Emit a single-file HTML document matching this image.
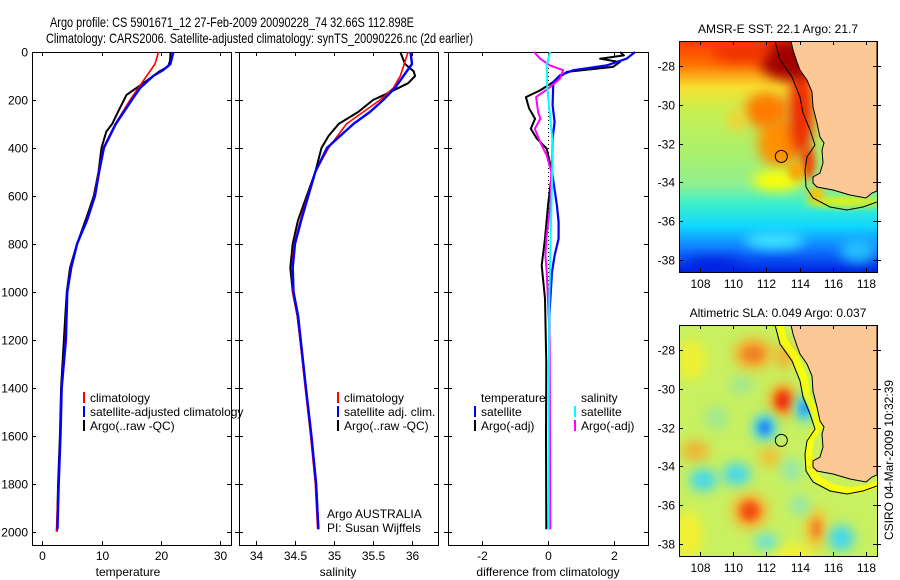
<!DOCTYPE html>
<html><head><meta charset="utf-8"><style>
html,body{margin:0;padding:0;background:#fff;}
svg{display:block;font-family:"Liberation Sans",sans-serif;}
</style></head><body>
<svg id="fig" width="900" height="580" viewBox="0 0 900 580" xmlns="http://www.w3.org/2000/svg">
<defs>
  <filter id="blur6" x="-50%" y="-50%" width="200%" height="200%"><feGaussianBlur stdDeviation="6"/></filter>
  <filter id="blur4" x="-50%" y="-50%" width="200%" height="200%"><feGaussianBlur stdDeviation="4"/></filter>
  <clipPath id="clipSST"><rect x="679" y="41" width="198" height="231"/></clipPath>
  <clipPath id="clipSLA"><rect x="679" y="325" width="198" height="231"/></clipPath>
  <linearGradient id="sstBase" x1="0" y1="0" x2="0" y2="1">
    <stop offset="0" stop-color="#ff3a00"/>
    <stop offset="0.1" stop-color="#ff7000"/>
    <stop offset="0.2" stop-color="#f8e030"/>
    <stop offset="0.3" stop-color="#c8f050"/>
    <stop offset="0.5" stop-color="#a8f070"/>
    <stop offset="0.62" stop-color="#90f090"/>
    <stop offset="0.7" stop-color="#40f0c8"/>
    <stop offset="0.8" stop-color="#10d8ff"/>
    <stop offset="0.9" stop-color="#1078ff"/>
    <stop offset="1" stop-color="#0020e0"/>
  </linearGradient>
</defs>
<g id="titles">
  <text x="50" y="27" font-size="14" textLength="364" lengthAdjust="spacingAndGlyphs">Argo profile: CS 5901671_12 27-Feb-2009 20090228_74 32.66S 112.898E</text>
  <text x="46" y="43" font-size="14" textLength="427" lengthAdjust="spacingAndGlyphs">Climatology: CARS2006. Satellite-adjusted climatology: synTS_20090226.nc (2d earlier)</text>
</g>
<g id="panels"></g>
<g id="maps"></g>
</svg>
<script>
// ---------------- DATA ----------------
const depthTicks = [0,200,400,600,800,1000,1200,1400,1600,1800,2000];
const tempTicks = [0,10,20,30];
const salTicks = [34,34.5,35,35.5,36];
const diffTicks = [-2,0,2];

const tArgoDepth = [0,20,40,61,80,120,179,249,300,332,400,500,600,688,800,900,1000,1100,1400,1600,1800,2000];
const tArgo      = [21.6,21.6,21.5,21.2,19.8,17.6,14.2,12.8,11.8,10.8,10.0,9.5,8.7,7.5,5.9,4.7,4.15,3.9,3.2,3.0,2.7,2.5];
const tClimDepth = [0,50,100,150,200,300,400,500,600,700,800,900,1000,1200,1400,1600,1800,2000];
const tClim      = [19.6,19.0,17.6,16.2,14.8,12.3,10.3,9.5,8.8,7.5,5.9,4.8,4.2,3.9,3.25,3.05,2.75,2.4];
const tSatDepth  = [0,50,75,100,150,200,300,400,500,600,700,800,900,1000,1200,1400,1600,1800,1990];
const tSat       = [22.1,21.6,20.4,18.7,16.5,15.1,12.4,10.4,9.6,8.9,7.6,5.9,4.9,4.25,4.0,3.3,3.1,2.8,2.6];

const sArgoDepth = [0,50,80,100,130,170,200,250,300,350,400,500,600,700,800,900,1000,1100,1400,1600,1800,1990];
const sArgo      = [35.85,35.91,36.02,36.04,35.95,35.70,35.50,35.31,35.06,34.93,34.84,34.76,34.65,34.54,34.47,34.44,34.47,34.53,34.64,34.71,34.77,34.80];
const sClimDepth = [0,100,150,200,300,400,500,600,700,800,900,1000,1100,1400,1600,1800,1990];
const sClim      = [35.95,35.85,35.76,35.59,35.16,34.93,34.76,34.66,34.57,34.49,34.46,34.47,34.53,34.63,34.70,34.76,34.79];
const sSatDepth  = [0,50,100,150,200,250,300,400,500,600,700,800,900,1000,1100,1400,1600,1800,1990];
const sSat       = [35.98,36.0,35.89,35.78,35.63,35.46,35.25,34.91,34.76,34.67,34.58,34.50,34.47,34.48,34.54,34.64,34.71,34.77,34.80];

const dTSatDepth = [0,28,56,76,97,125,222,292,361,500,640,709,778,848,917,987,1100,1500,1990];
const dTSat      = [2.64,2.38,1.78,0.77,0.36,0.16,0.14,0.2,0.14,0.12,0.27,0.32,0.32,0.2,0.12,0.09,0.04,0.04,0.03];
const dTArgoDepth= [0,14,28,42,62,83,125,160,188,236,278,320,361,403,500,640,778,889,945,1028,1300,1600,1990];
const dTArgo     = [2.18,2.3,1.58,2.18,1.97,0.57,0.16,-0.24,-0.67,-0.57,-0.39,-0.52,-0.34,-0.04,0.12,0.0,-0.09,-0.19,-0.15,-0.09,-0.05,-0.06,-0.05];
const dSSatDepth = [0,56,153,361,500,778,1050,1500,1990];
const dSSat      = [0.06,-0.04,-0.02,0.13,0.13,0.08,0.04,0.02,0.02];
const dSArgoDepth= [0,28,56,76,111,153,188,250,278,320,375,431,500,640,778,848,917,1200,1600,1990];
const dSArgo     = [-0.42,-0.24,0.06,0.46,0.36,0.0,-0.36,-0.3,-0.23,-0.4,-0.24,-0.04,0.1,0.07,-0.05,-0.08,-0.04,0.05,0.06,0.07];

// ---------------- HELPERS ----------------
const NS = "http://www.w3.org/2000/svg";
function mk(tag, attrs, parent){
  const e = document.createElementNS(NS, tag);
  for (const k in attrs) e.setAttribute(k, attrs[k]);
  if (parent) parent.appendChild(e);
  return e;
}
const PY0 = 52, PY1 = 545;
function yScale(d){ return PY0 + d*0.2398; }
const panelDefs = [
  {name:'temperature-panel', x0:32, x1:231, v0:-1.7, v1:31.8, ticks:tempTicks, label:'temperature', lx:128},
  {name:'salinity-panel', x0:239, x1:438, v0:33.782, v1:36.333, ticks:salTicks, label:'salinity', lx:338},
  {name:'difference-panel', x0:448, x1:648, v0:-3.03, v1:3.03, ticks:diffTicks, label:'difference from climatology', lx:548}
];
function xScaleFor(p){ return v => p.x0 + (v - p.v0)/(p.v1 - p.v0)*(p.x1 - p.x0); }

const panelsG = document.getElementById('panels');
panelDefs.forEach((p, i) => {
  const g = mk('g', {}, panelsG);
  
  
  p.g = g; p.xs = xScaleFor(p);
  const r = mk('rect', {x:p.x0+0.5, y:PY0+0.5, width:p.x1-p.x0, height:PY1-PY0, fill:'none', stroke:'#000', 'stroke-width':1}, g);
  
  
  depthTicks.forEach(d => {
    const y = Math.round(yScale(d))+0.5;
    mk('line', {x1:p.x0, x2:p.x0+4, y1:y, y2:y, stroke:'#000'}, g);
    mk('line', {x1:p.x1-4, x2:p.x1, y1:y, y2:y, stroke:'#000'}, g);
    if (i === 0) {
      const t = mk('text', {x:28, y:y+4, 'font-size':12, 'text-anchor':'end'}, g);
      t.textContent = d;
      
      
    } else {
      mk('line', {x1:p.x0-4, x2:p.x0, y1:y, y2:y, stroke:'#000'}, g);
    }
  });
  p.ticks.forEach(v => {
    const x = Math.round(p.xs(v))+0.5;
    mk('line', {x1:x, x2:x, y1:PY1-4, y2:PY1, stroke:'#000'}, g);
    mk('line', {x1:x, x2:x, y1:PY0, y2:PY0+4, stroke:'#000'}, g);
    const t = mk('text', {x:x, y:560, 'font-size':12, 'text-anchor':'middle'}, g);
    t.textContent = v;
    
    
  });
  const lab = mk('text', {x:p.lx, y:576, 'font-size':12, 'text-anchor':'middle'}, g);
  lab.textContent = p.label;
  
  
});

function drawLine(p, depths, vals, color, w, name){
  const pts = depths.map((d,k) => p.xs(vals[k]).toFixed(1)+','+yScale(d).toFixed(1)).join(' ');
  const l = mk('polyline', {points:pts, fill:'none', stroke:color, 'stroke-width':w, 'stroke-linejoin':'round'}, p.g);
  
  
}
const [P1,P2,P3] = panelDefs;
drawLine(P1, tArgoDepth, tArgo, '#000', 2, 'argo-temperature-line');
drawLine(P1, tClimDepth, tClim, '#f00', 1.6, 'climatology-temperature-line');
drawLine(P1, tSatDepth, tSat, '#00f', 2.4, 'satellite-adjusted-temperature-line');
drawLine(P2, sArgoDepth, sArgo, '#000', 2, 'argo-salinity-line');
drawLine(P2, sClimDepth, sClim, '#f00', 1.6, 'climatology-salinity-line');
drawLine(P2, sSatDepth, sSat, '#00f', 2.4, 'satellite-adjusted-salinity-line');
const zx = Math.round(P3.xs(0))+0.5;
const zl = mk('line', {x1:zx, x2:zx, y1:PY0, y2:yScale(1990), stroke:'#000', 'stroke-dasharray':'1,3'}, P3.g);


drawLine(P3, dTArgoDepth, dTArgo, '#000', 2, 'argo-temperature-difference-line');
drawLine(P3, dTSatDepth, dTSat, '#00f', 2.2, 'satellite-temperature-difference-line');
drawLine(P3, dSArgoDepth, dSArgo, '#f0f', 2, 'argo-salinity-difference-line');
drawLine(P3, dSSatDepth, dSSat, '#0ff', 2, 'satellite-salinity-difference-line');

function legendEntry(g, x, y, color, text){
  const e = mk('g', {}, g);
  
  
  if (color) mk('rect', {x:x, y:y-10, width:2, height:11, fill:color}, e);
  const t = mk('text', {x:x+7, y:y, 'font-size':12}, e);
  t.textContent = text;
}
function legendGroup(parent, name){
  const g = mk('g', {}, parent);
  
  
  return g;
}
let lg = legendGroup(panelsG, 'temperature-legend');
legendEntry(lg, 83, 402, '#f00', 'climatology');
legendEntry(lg, 83, 416, '#00f', 'satellite-adjusted climatology');
legendEntry(lg, 83, 430, '#000', 'Argo(..raw -QC)');
lg = legendGroup(panelsG, 'salinity-legend');
legendEntry(lg, 337, 402, '#f00', 'climatology');
legendEntry(lg, 337, 416, '#00f', 'satellite adj. clim.');
legendEntry(lg, 337, 430, '#000', 'Argo(..raw -QC)');
lg = legendGroup(panelsG, 'difference-legend');
legendEntry(lg, 474, 402, null, 'temperature');
legendEntry(lg, 474, 416, '#00f', 'satellite');
legendEntry(lg, 474, 430, '#000', 'Argo(-adj)');
legendEntry(lg, 574, 402, null, 'salinity');
legendEntry(lg, 574, 416, '#0ff', 'satellite');
legendEntry(lg, 574, 430, '#f0f', 'Argo(-adj)');
const ack = mk('text', {x:327, y:518, 'font-size':12}, panelsG);
ack.textContent = 'Argo AUSTRALIA';


const ack2 = mk('text', {x:327, y:532, 'font-size':12}, panelsG);
ack2.textContent = 'PI: Susan Wijffels';



// ---------------- MAPS ----------------
const lonTicks = [108,110,112,114,116,118];
const latTicks = [-28,-30,-32,-34,-36,-38];
const mapsG = document.getElementById('maps');
const MX0 = 679, MX1 = 877;
function lonX(lon){ return 700 + (lon-108)*16.6; }
function latY(top, lat){ return top + 25 + (-28 - lat)*19.4; }
const coastPts = [[791,0],[793,9],[797,21],[800,29],[807,39],[812,51],[813,66],[817,82],[820,96],[824,102],[822,109],[823,122],[820,132],[813,136],[813,142],[817,146],[833,149],[850,154],[866,157],[872,152],[877,150],[877,0]];
const isoPts = [[775,0],[780,19],[792,36],[800,56],[803,72],[810,89],[815,104],[807,116],[805,129],[806,146],[813,157],[830,166],[847,169],[863,166],[877,161]];

function drawMap(top, clip, name, titleText, fillFn, bandColor){
  const g = mk('g', {}, mapsG);
  
  
  const inner = mk('g', {'clip-path':'url(#'+clip+')'}, g);
  fillFn(inner, top);
  if (bandColor) {
    const band = mk('polyline', {points:isoPts.map(p=>(p[0]+4)+','+(p[1]+top-3)).join(' '), fill:'none', stroke:bandColor, 'stroke-width':7, 'stroke-linejoin':'round', opacity:0.85}, inner);
    
    
  }
  const land = mk('polygon', {points:coastPts.map(p=>p[0]+','+(p[1]+top)).join(' '), fill:'#fcc896', stroke:'#000', 'stroke-width':1}, inner);
  
  
  const iso = mk('polyline', {points:isoPts.map(p=>p[0]+','+(p[1]+top)).join(' '), fill:'none', stroke:'#000', 'stroke-width':1}, inner);
  
  
  const c = mk('circle', {cx:lonX(112.898), cy:latY(top,-32.66), r:6, fill:'none', stroke:'#000', 'stroke-width':1}, g);
  
  
  mk('rect', {x:MX0+0.5, y:top+0.5, width:MX1-MX0, height:231, fill:'none', stroke:'#000'}, g);
  lonTicks.forEach(lon => {
    const x = Math.round(lonX(lon))+0.5;
    mk('line', {x1:x, x2:x, y1:top+231-4, y2:top+231, stroke:'#000'}, g);
    mk('line', {x1:x, x2:x, y1:top, y2:top+4, stroke:'#000'}, g);
    const t = mk('text', {x:x, y:top+247, 'font-size':12, 'text-anchor':'middle'}, g);
    t.textContent = lon;
    
    
  });
  latTicks.forEach(lat => {
    const y = Math.round(latY(top,lat))+0.5;
    mk('line', {x1:MX1-4, x2:MX1+4, y1:y, y2:y, stroke:'#000'}, g);
    mk('line', {x1:MX0, x2:MX0+4, y1:y, y2:y, stroke:'#000'}, g);
    const t = mk('text', {x:675, y:y+4, 'font-size':12, 'text-anchor':'end'}, g);
    t.textContent = lat;
    
    
  });
  const tt = mk('text', {x:778, y:top-8, 'font-size':12, 'text-anchor':'middle'}, g);
  tt.textContent = titleText;
  
  
}

function blob(g, lon, lat, top, rx, ry, color, filt){
  mk('ellipse', {cx:lonX(lon), cy:latY(top,lat), rx:rx, ry:ry, fill:color, filter:'url(#'+filt+')'}, g);
}

drawMap(41, 'clipSST', 'sst-map', 'AMSR-E SST: 22.1 Argo: 21.7', (g, top) => {
  mk('rect', {x:MX0, y:top, width:198, height:231, fill:'url(#sstBase)'}, g);
  const b = mk('g', {}, g);
  blob(b, 112.8, -32.0, top, 22, 24, '#ff9000', 'blur6');
  blob(b, 112.0, -30.3, top, 22, 18, '#ff7a00', 'blur6');
  blob(b, 110.2, -30.8, top, 9, 11, '#f8d030', 'blur6');
  blob(b, 114.1, -30.3, top, 12, 45, '#f02800', 'blur6');
  blob(b, 114.5, -33.0, top, 7, 16, '#f04000', 'blur4');
  blob(b, 113.4, -27.7, top, 30, 20, '#a00000', 'blur6');
  blob(b, 110.5, -27.3, top, 30, 10, '#f03000', 'blur6');
  blob(b, 112.6, -33.9, top, 24, 10, '#ffff00', 'blur6');
  blob(b, 113.8, -33.4, top, 8, 10, '#ffa000', 'blur4');
  blob(b, 116.8, -35.0, top, 40, 5, '#f8f000', 'blur4');
  blob(b, 115.0, -34.6, top, 8, 8, '#ffc000', 'blur4');
  blob(b, 112.5, -37.0, top, 30, 8, '#40e8ff', 'blur6');
  blob(b, 117.5, -37.5, top, 18, 12, '#20c0ff', 'blur6');
  blob(b, 108.8, -38.3, top, 28, 8, '#0020e0', 'blur6');
}, null);

drawMap(325, 'clipSLA', 'sla-map', 'Altimetric SLA: 0.049 Argo: 0.037', (g, top) => {
  mk('rect', {x:MX0, y:top, width:198, height:231, fill:'#c8f060'}, g);
  const b = mk('g', {}, g);
  blob(b, 107.3, -37.5, top, 14, 24, '#f4f030', 'blur6');
  blob(b, 113.5, -38.6, top, 24, 12, '#f4f030', 'blur6');
  blob(b, 107.5, -28.5, top, 14, 20, '#f0f030', 'blur6');
  blob(b, 110.5, -29.8, top, 12, 10, '#a0e890', 'blur6');
  blob(b, 109.0, -31.5, top, 12, 12, '#a0e890', 'blur6');
  blob(b, 111.2, -28.2, top, 20, 16, '#f4b030', 'blur6');
  blob(b, 111.2, -28.2, top, 11, 8, '#f08020', 'blur4');
  blob(b, 113.1, -28.3, top, 10, 13, '#f0b030', 'blur6');
  blob(b, 113.0, -30.6, top, 14, 17, '#f8a020', 'blur6');
  blob(b, 113.0, -30.6, top, 8, 10, '#f03010', 'blur4');
  blob(b, 114.3, -31.0, top, 10, 14, '#40d0f0', 'blur6');
  blob(b, 114.3, -31.0, top, 4, 7, '#2090f0', 'blur4');
  blob(b, 111.9, -32.0, top, 12, 14, '#40d0f0', 'blur6');
  blob(b, 111.9, -32.0, top, 6, 7, '#2080f0', 'blur4');
  blob(b, 107.7, -33.2, top, 14, 10, '#f0b030', 'blur6');
  blob(b, 112.2, -33.5, top, 11, 10, '#f0c030', 'blur6');
  blob(b, 108.2, -34.7, top, 14, 11, '#40d8f0', 'blur6');
  blob(b, 110.2, -34.4, top, 14, 11, '#40d8f0', 'blur6');
  blob(b, 113.5, -34.2, top, 10, 12, '#90e8b0', 'blur6');
  blob(b, 111.0, -36.3, top, 18, 18, '#f8b030', 'blur6');
  blob(b, 111.0, -36.3, top, 10, 10, '#f05010', 'blur4');
  blob(b, 115.0, -37.2, top, 11, 20, '#f8c030', 'blur6');
  blob(b, 115.0, -37.2, top, 5, 10, '#f08020', 'blur4');
  blob(b, 116.5, -37.7, top, 13, 13, '#40d8f0', 'blur6');
  blob(b, 112.0, -37.9, top, 12, 8, '#60e0e0', 'blur6');
  blob(b, 114.0, -36.0, top, 10, 10, '#90e8b0', 'blur6');
}, '#ffff00');

const stamp = mk('text', {transform:'translate(893,460) rotate(-90)', 'font-size':12, 'text-anchor':'middle'}, mapsG);
stamp.textContent = 'CSIRO 04-Mar-2009 10:32:39';


</script>
</body></html>
